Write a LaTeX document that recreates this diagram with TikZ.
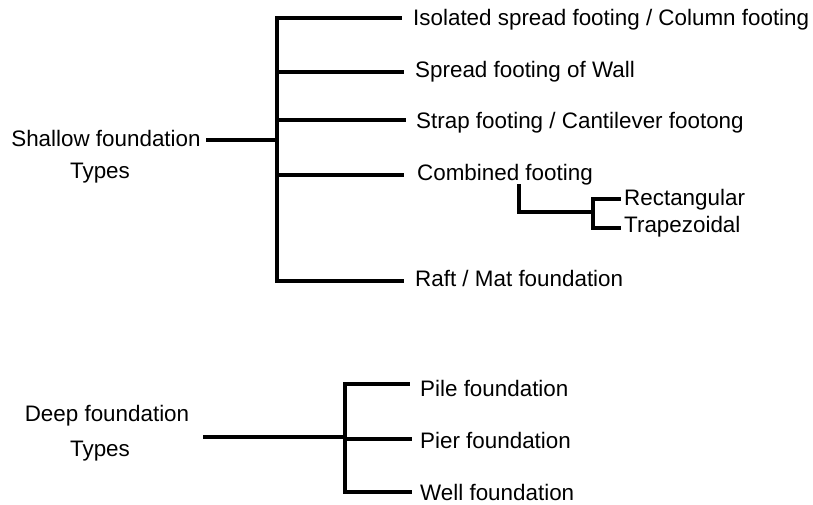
\documentclass[tikz,border=0pt]{standalone}
\usepackage{fontspec}
\setmainfont{Liberation Sans}
\begin{document}
\begin{tikzpicture}[x=1pt,y=-1pt,
  conn/.style={line width=3.3pt,line cap=rect},
  lbl/.style={anchor=west,inner sep=0pt,font=\fontsize{22.4}{26}\selectfont},
  root/.style={inner sep=0pt,font=\fontsize{22.4}{26}\selectfont}]
\useasboundingbox (0,0) rectangle (813,504);
% shallow
\node[root] (sh) at (106,138) {Shallow foundation};
\node[root] (sht) at (100,173) {Types};
\coordinate (shs) at (208,140);
\coordinate (shj) at (277,140);
\coordinate (st) at (277,18);
\coordinate (sb) at (277,281);
\node[lbl] (s1) at (413,20) {Isolated spread footing / Column footing};
\node[lbl] (s2) at (415,72) {Spread footing of Wall};
\node[lbl] (s3) at (416,123) {Strap footing / Cantilever footong};
\node[lbl] (s4) at (417,175) {Combined footing};
\node[lbl] (s5) at (415,278) {Raft / Mat foundation};
\draw[conn] (shs) -- (shj);
\draw[conn] (st) -- (sb);
\draw[conn] (st) -- (400,18);
\draw[conn] (277,72) -- (402,72);
\draw[conn] (277,120) -- (404,120);
\draw[conn] (277,175) -- (402,175);
\draw[conn] (sb) -- (402,281);
% combined sub
\coordinate (c1) at (519,186);
\coordinate (c2) at (519,212);
\coordinate (c3) at (593,212);
\coordinate (ct) at (593,199);
\coordinate (cb) at (593,228);
\node[lbl] (r1) at (624,200) {Rectangular};
\node[lbl] (r2) at (624,227) {Trapezoidal};
\draw[conn] (c1) -- (c2) -- (c3);
\draw[conn] (ct) -- (cb);
\draw[conn] (ct) -- (619,199);
\draw[conn] (cb) -- (619,228);
% deep
\node[root] (dp) at (107,416) {Deep foundation};
\node[root] (dpt) at (100,451) {Types};
\coordinate (ds) at (205,437);
\coordinate (dj) at (345,437);
\coordinate (dt) at (345,384);
\coordinate (db) at (345,492);
\node[lbl] (d1) at (420,388) {Pile foundation};
\node[lbl] (d2) at (420,440) {Pier foundation};
\node[lbl] (d3) at (420,492) {Well foundation};
\draw[conn] (ds) -- (dj);
\draw[conn] (dt) -- (db);
\draw[conn] (dt) -- (408,384);
\draw[conn] (345,439) -- (410,439);
\draw[conn] (db) -- (410,492);
\end{tikzpicture}
\end{document}
